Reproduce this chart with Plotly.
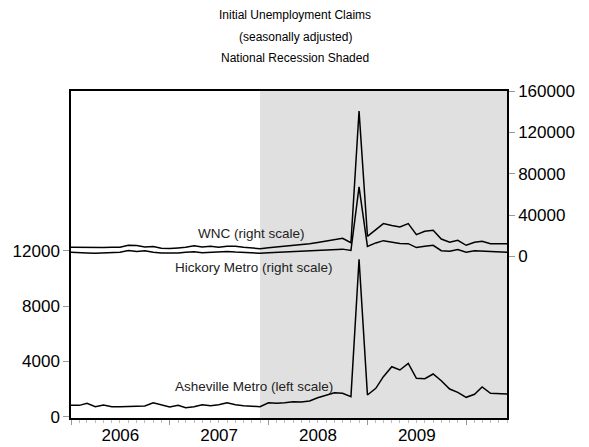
import pandas as pd
import plotly.graph_objects as go

months = pd.date_range("2006-01-01", periods=54, freq="MS")

wnc = [8700, 8500, 8200, 8200, 8500, 8900, 8900, 10700, 10500, 9000,
       9600, 7800, 7600, 8200, 8800, 10200, 9100, 9700, 8800, 9800,
       9700, 8800, 8000, 7400, 8300, 9000, 9800, 10500, 11300, 12200,
       13500, 14800, 16500, 17500, 13200, 140600, 19400, 25900, 31700, 29800,
       28500, 31700, 21000, 24200, 25200, 16800, 13600, 15500, 10700, 13600,
       14500, 12300, 12000, 12300]

hickory = [3900, 3300, 3200, 3000, 3300, 3600, 3900, 5600, 4800, 5500,
           3900, 3200, 2900, 3200, 3900, 4500, 3600, 3900, 4200, 4800,
           4200, 3900, 3300, 3000, 3600, 4000, 4300, 4600, 4900, 5200,
           5600, 5900, 6500, 7000, 5800, 67300, 9700, 13000, 15200, 13600,
           12500, 12300, 8500, 9700, 10700, 5500, 4850, 6500, 3900, 5500,
           5200, 4200, 3900, 3900]

asheville = [820, 820, 970, 720, 850, 720, 720, 720, 770, 770,
             1010, 850, 700, 820, 650, 720, 870, 800, 870, 1010,
             870, 800, 770, 720, 1010, 970, 1010, 1085, 1063, 1136,
             1374, 1570, 1736, 1692, 1447, 11385, 1570, 2054, 2893, 3616,
             3378, 3863, 2778, 2749, 3089, 2604, 2004, 1765, 1403, 1620,
             2148, 1692, 1642, 1642]

recession = ["2007-12-01", "2010-06-01"]
left_ticks = [0, 4000, 8000, 12000]
right_ticks = [0, 40000, 80000, 120000, 160000]
title_lines = ["Initial Unemployment Claims", "(seasonally adjusted)", "National Recession Shaded"]

FONT = "Liberation Sans, Arial, sans-serif"
fig = go.Figure()
line = dict(color="black", width=1.5)
fig.add_trace(go.Scatter(x=months, y=wnc, mode="lines", line=line, yaxis="y2", name="WNC"))
fig.add_trace(go.Scatter(x=months, y=hickory, mode="lines", line=line, yaxis="y2", name="Hickory"))
fig.add_trace(go.Scatter(x=months, y=asheville, mode="lines", line=line, yaxis="y", name="Asheville"))

fig.add_vrect(x0=recession[0], x1=recession[1], fillcolor="#E0E0E0", line_width=0, layer="below", opacity=1)

annots = []
for txt, yy in zip(title_lines, [1.232, 1.165, 1.101]):
    annots.append(dict(text=txt, xref="paper", yref="paper", x=0.514, y=yy, showarrow=False,
                       xanchor="center", yanchor="middle", font=dict(size=12, color="black", family=FONT)))
annots.append(dict(text="WNC (right scale)", xref="x", yref="y2", x="2007-11-01", y=22000,
                   showarrow=False, font=dict(size=13.5, color="#222", family=FONT)))
annots.append(dict(text="Hickory Metro (right scale)", xref="x", yref="y2", x="2007-11-10", y=-11000,
                   showarrow=False, font=dict(size=13.5, color="#222", family=FONT)))
annots.append(dict(text="Asheville Metro (left scale)", xref="x", yref="y", x="2007-11-10", y=2150,
                   showarrow=False, font=dict(size=13.5, color="#222", family=FONT)))

fig.update_layout(
    width=589, height=447,
    margin=dict(l=71, r=82, t=91, b=29, autoexpand=False),
    paper_bgcolor="white", plot_bgcolor="white",
    showlegend=False,
    font=dict(family=FONT, size=17, color="black"),
    annotations=annots,
    xaxis=dict(type="date", range=[months[0], months[-1]], showgrid=False, zeroline=False,
               showline=True, linecolor="black", linewidth=1.5, mirror=True, automargin=False,
               ticks="outside", ticklen=5, tickcolor="#999", dtick="M12", tick0="2006-01-01",
               ticklabelmode="period", tickformat="%Y", tickfont=dict(size=17),
               ticklabelstandoff=-4,
               minor=dict(dtick="M1", ticks="outside", ticklen=3, tickcolor="#bbb")),
    yaxis=dict(range=[-94, 23560], tickvals=left_ticks, tickformat="d", showgrid=False, zeroline=False,
               showline=True, linecolor="black", linewidth=1.5, automargin=False,
               ticks="outside", ticklen=6, tickcolor="#999", tickfont=dict(size=17)),
    yaxis2=dict(range=[-156400, 160000], tickvals=right_ticks, tickformat="d", overlaying="y", side="right",
                showgrid=False, zeroline=False, showline=True, linecolor="black", linewidth=1.5,
                automargin=False,
                ticks="outside", ticklen=6, tickcolor="#999", tickfont=dict(size=17)),
)

fig.write_html("out.html", config={"displayModeBar": False},
               post_script="document.body.style.margin='0px';document.body.style.overflow='hidden';")
